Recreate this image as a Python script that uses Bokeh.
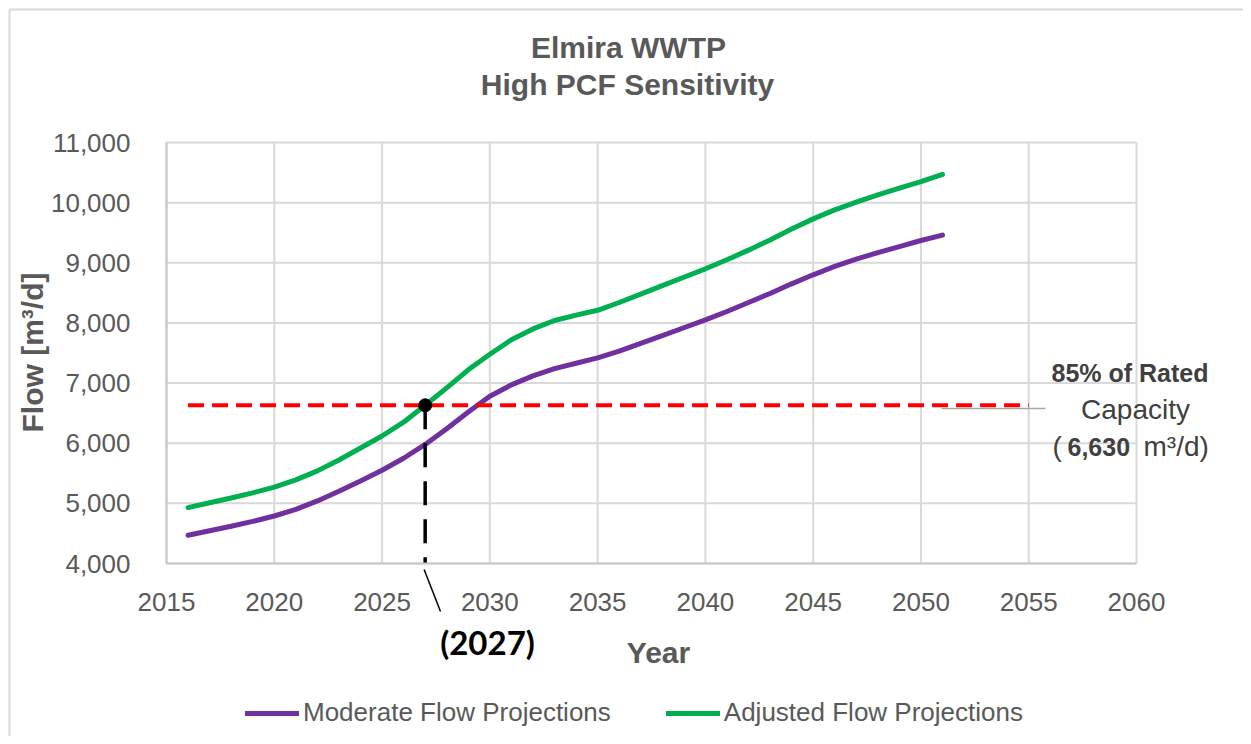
from bokeh.plotting import figure
from bokeh.models import (Range1d, SingleIntervalTicker, NumeralTickFormatter, Label,
                          Arrow, Legend, LegendItem, ColumnDataSource, LinearAxis)
from bokeh.embed import file_html
from bokeh.resources import INLINE

# ---------------- data ----------------
years = list(range(2016, 2052))
moderate = [4470, 4545, 4620, 4700, 4790, 4900, 5040, 5200, 5370, 5550,
            5750, 5980, 6240, 6520, 6780, 6970, 7120, 7240, 7330, 7420,
            7530, 7660, 7790, 7920, 8050, 8190, 8340, 8490, 8650, 8800,
            8940, 9060, 9170, 9270, 9370, 9460]
adjusted = [4930, 5010, 5090, 5175, 5270, 5390, 5540, 5720, 5920, 6120,
            6350, 6630, 6920, 7220, 7480, 7720, 7900, 8040, 8130, 8210,
            8340, 8480, 8620, 8760, 8900, 9050, 9210, 9380, 9560, 9730,
            9880, 10010, 10130, 10240, 10350, 10470]
capacity_years = [2016, 2055]
capacity_value = 6630
crossing_year = 2027
series_names = ["Moderate Flow Projections", "Adjusted Flow Projections"]
series_colors = ["#7030a0", "#00b050"]
x_ticks = list(range(2015, 2061, 5))
y_ticks = list(range(4000, 11001, 1000))

# ---------------- layout helpers (picture pixels -> data) ----------------
W, H = 1243, 736
FL, FR, FT, FB = 166, 1136, 142, 563          # plot-area edges in the picture
XS = (FR - FL) / 45.0
YS = (FB - FT) / 7000.0
def dx(px): return 2015 + (px - FL) / XS
def dy(py): return 4000 + (FB - py) / YS

SANS = "Liberation Sans"
GREY = "#595959"

p = figure(width=W, height=H, output_backend="svg", toolbar_location=None,
           x_range=Range1d(dx(0), dx(W)), y_range=Range1d(dy(H), dy(0)),
           x_axis_location=None, y_axis_location=None, min_border=0)
p.background_fill_color = "white"
p.border_fill_color = "white"
p.outline_line_color = None
for g in p.grid:
    g.visible = False

# grid (plot area 2015-2060 x 4000-11000)
p.segment(x0=x_ticks, y0=[y_ticks[0]] * len(x_ticks), x1=x_ticks, y1=[y_ticks[-1]] * len(x_ticks),
          line_color="#d9d9d9", line_width=2)
p.segment(x0=[x_ticks[0]] * len(y_ticks), y0=y_ticks, x1=[x_ticks[-1]] * len(y_ticks), y1=y_ticks,
          line_color="#d9d9d9", line_width=2)

# axes pinned to the plot-area edges
xaxis = LinearAxis(fixed_location=y_ticks[0], bounds=(x_ticks[0], x_ticks[-1]),
                   ticker=SingleIntervalTicker(interval=5))
yaxis = LinearAxis(fixed_location=x_ticks[0], bounds=(y_ticks[0], y_ticks[-1]),
                   ticker=SingleIntervalTicker(interval=1000),
                   formatter=NumeralTickFormatter(format="0,0"))
for ax in (xaxis, yaxis):
    ax.major_tick_line_color = None
    ax.minor_tick_line_color = None
    ax.major_tick_out = 0
    ax.major_tick_in = 0
    ax.minor_tick_out = 0
    ax.axis_line_color = "#c8c8c8"
    ax.axis_line_width = 2
    ax.major_label_text_font = SANS
    ax.major_label_text_font_size = "26px"
    ax.major_label_text_color = GREY
yaxis.major_label_standoff = 36
xaxis.major_label_standoff = 29
p.add_layout(xaxis, "below")
p.add_layout(yaxis, "left")

# outer chart border (left and top visible in the reference)
p.line([dx(9), dx(9)], [dy(H), dy(9)], line_color="#d9d9d9", line_width=2)
p.line([dx(9), dx(W)], [dy(9), dy(9)], line_color="#d9d9d9", line_width=2)

# series
renderers = []
for vals, name, col in zip([moderate, adjusted], series_names, series_colors):
    src = ColumnDataSource(dict(x=years, y=vals))
    r = p.line("x", "y", source=src, line_color=col, line_width=5,
               line_cap="round", line_join="round")
    renderers.append(r)

# 85% capacity line
p.line(capacity_years, [capacity_value, capacity_value], line_color="#ff0000",
       line_width=4, line_dash="16 8")
# leader line from the capacity line to its label
p.line([dx(941), dx(1045)], [dy(408), dy(408)], line_color="#a6a6a6", line_width=1.5)
# vertical dashed drop line at crossing
p.line([crossing_year, crossing_year], [capacity_value, y_ticks[0]], line_color="black",
       line_width=3.5, line_dash="24 14")
p.scatter([crossing_year], [capacity_value], size=13, color="black")

# leader from axis to "(2027)"
p.add_layout(Arrow(end=None, x_start=crossing_year - 0.05, y_start=dy(569),
                   x_end=dx(440), y_end=dy(611), line_color="black", line_width=1.5))

# legend
legend = Legend(items=[LegendItem(label=n, renderers=[r]) for n, r in zip(series_names, renderers)],
                orientation="horizontal", location=(245, H - 728),
                glyph_width=54, glyph_height=30, label_height=30, label_standoff=4, spacing=55,
                padding=0, margin=0, border_line_color=None, background_fill_alpha=0,
                label_text_font=SANS, label_text_font_size="26px",
                label_text_color=GREY)
p.add_layout(legend, "center")

def lab(px, py, text, font, size, color=GREY, style="bold", align="center", angle=0):
    p.add_layout(Label(x=dx(px), y=dy(py), text=text, text_font=font,
                       text_font_size=size, text_font_style=style, text_color=color,
                       text_align=align, text_baseline="middle", angle=angle))

# titles
lab(628, 47, "Elmira WWTP", SANS, "30px")
lab(627, 84, "High PCF Sensitivity", SANS, "30px")
# axis titles
lab(658, 652, "Year", SANS, "30px")
lab(32, 352, "Flow [m³/d]", SANS, "30px", angle=1.5707963)
# crossing year annotation
lab(487, 641, "(2027)", "Lato", "33px", color="black")
# capacity label
CAP = "#404040"
lab(1133, 372, "85%  of Rated", SANS, "25px", color=CAP)
lab(1135, 409, "Capacity", SANS, "28px", color=CAP, style="normal")
lab(1052, 446, "(", SANS, "28px", color=CAP, style="normal", align="left")
lab(1067, 446, "6,630", SANS, "25px", color=CAP, align="left")
lab(1143, 446, "m³/d)", SANS, "28px", color=CAP, style="normal", align="left")

open("out.html", "w").write(file_html(p, INLINE))
